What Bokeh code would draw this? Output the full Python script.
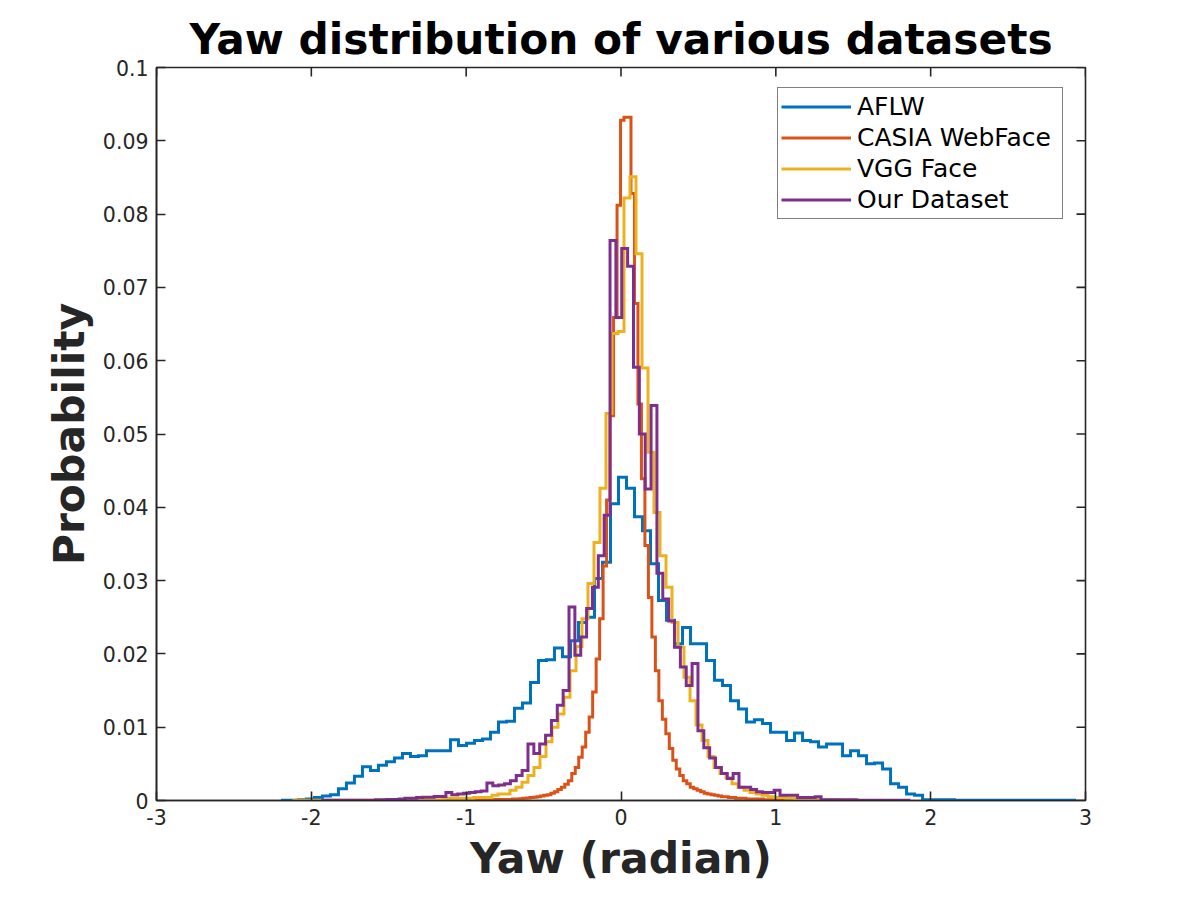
import numpy as np
from bokeh.plotting import figure
from bokeh.models import Range1d, FixedTicker, Legend, LegendItem
from bokeh.embed import file_html
from bokeh.resources import INLINE

# ---------------- data ----------------
series_names = ["AFLW", "CASIA WebFace", "VGG Face", "Our Dataset"]
series_colors = ["#0072BD", "#D95319", "#EDB120", "#7E2F8E"]

# AFLW: 99 bins
aflw_start = -2.1867
aflw_width = 0.05168
aflw_values = [
    0.00005, 0.00005, 0.0001, 0.0002, 0.0004, 0.0006, 0.0008, 0.0016, 0.0024, 0.0033,
    0.0046, 0.0041, 0.0048, 0.0053, 0.0058, 0.0064, 0.0060, 0.0061, 0.0068, 0.0068,
    0.0068, 0.0083, 0.0075, 0.0078, 0.0082, 0.0084, 0.0093, 0.0107, 0.0108, 0.0126,
    0.0133, 0.0161, 0.0191, 0.0192, 0.0208, 0.0196, 0.0218, 0.0243, 0.0250, 0.0303,
    0.0325, 0.0405, 0.0441, 0.0426, 0.0387, 0.0368, 0.0323, 0.0273, 0.0246, 0.0214,
    0.0236, 0.0214, 0.0214, 0.0191, 0.0164, 0.0157, 0.0136, 0.0125, 0.0107, 0.0110,
    0.0105, 0.0093, 0.0093, 0.0082, 0.0092, 0.0082, 0.0080, 0.0073, 0.0077, 0.0077,
    0.0061, 0.0068, 0.0061, 0.0050, 0.0051, 0.0043, 0.0023, 0.0018, 0.0009, 0.0007,
    0.0001, 0.0001, 0.0001, 0.0001, 0.00005, 0.00003, 0.00003, 0.00003, 0.00003, 0.00003,
    0.00003, 0.00003, 0.00003, 0.00003, 0.00003, 0.00003, 0.00003, 0.00003, 0.00003,
]

# CASIA WebFace: 100 bins
casia_start = -1.1505
casia_width = 0.0225
casia_values = [
    0.00004, 0.00004, 0.00004, 0.00004, 0.00004, 0.00004, 0.00004, 0.00004, 0.00004, 0.00004,
    0.0001, 0.0001, 0.0001, 0.0001, 0.0001, 0.00015, 0.00015, 0.00015, 0.00015, 0.00015,
    0.0002, 0.0002, 0.00025, 0.0003, 0.00035, 0.0004, 0.00045, 0.0005, 0.0006, 0.0007,
    0.0008, 0.0010, 0.0012, 0.0015, 0.0018, 0.0022, 0.0027, 0.0037, 0.0045, 0.0059,
    0.0073, 0.0093, 0.0114, 0.0148, 0.0193, 0.0248, 0.0320, 0.0410, 0.0525, 0.0659,
    0.0812, 0.0928, 0.0932, 0.0932, 0.0828, 0.0678, 0.0541, 0.0439, 0.0348, 0.0277,
    0.0223, 0.0177, 0.0136, 0.0111, 0.0091, 0.0071, 0.0055, 0.0043, 0.0034, 0.0027,
    0.0023, 0.0018, 0.0016, 0.0014, 0.0012, 0.0010, 0.0009, 0.0008, 0.0007, 0.0006,
    0.0005, 0.0005, 0.0004, 0.0004, 0.0003, 0.0003, 0.0003, 0.0002, 0.0002, 0.0002,
    0.0002, 0.0002, 0.0001, 0.0001, 0.0001, 0.0001, 0.0001, 0.0001, 0.0001, 0.0001,
]

# VGG Face: 94 bins
vgg_start = -2.1124
vgg_width = 0.03876
vgg_values = [
    0.00003, 0.00003, 0.00003, 0.00003, 0.00003, 0.00005, 0.00005, 0.00005, 0.00005, 0.00005,
    0.00005, 0.00005, 0.00005, 0.00005, 0.00005, 0.0001, 0.0001, 0.0001, 0.0001, 0.0001,
    0.0001, 0.0001, 0.0001, 0.0001, 0.0001, 0.0003, 0.0003, 0.0003, 0.0003, 0.0003,
    0.0004, 0.0004, 0.0004, 0.0007, 0.0009, 0.0009, 0.0014, 0.0018, 0.0025, 0.0034,
    0.0045, 0.0060, 0.0080, 0.0100, 0.0118, 0.0141, 0.0177, 0.0210, 0.0248, 0.0296,
    0.0352, 0.0426, 0.0528, 0.0637, 0.0640, 0.0822, 0.0851, 0.0746, 0.0590, 0.0475,
    0.0393, 0.0334, 0.0291, 0.0243, 0.0209, 0.0168, 0.0136, 0.0103, 0.0082, 0.0060,
    0.0045, 0.0037, 0.0031, 0.0023, 0.0018, 0.0014, 0.0011, 0.0009, 0.0007, 0.0005,
    0.0004, 0.0004, 0.0003, 0.0003, 0.0002, 0.0002, 0.0001, 0.0001, 0.0001, 0.0001,
    0.0001, 0.00005, 0.00005, 0.00005,
]

# Our Dataset: 100 bins
ours_start = -1.9257
ours_width = 0.037855
ours_values = [
    0.00003, 0.00003, 0.00003, 0.00003, 0.00003, 0.00003, 0.00003, 0.00003, 0.00003, 0.0001,
    0.0001, 0.00015, 0.00015, 0.0002, 0.0003, 0.0003, 0.0004, 0.00045, 0.00045, 0.00055,
    0.00055, 0.0011, 0.0008, 0.0009, 0.0010, 0.0011, 0.0012, 0.0013, 0.0024, 0.0020,
    0.0021, 0.0023, 0.0027, 0.0034, 0.0041, 0.0077, 0.0064, 0.0077, 0.0089, 0.0109,
    0.0130, 0.0150, 0.0264, 0.0198, 0.0223, 0.0262, 0.0291, 0.0334, 0.0389, 0.0764,
    0.0659, 0.0753, 0.0729, 0.0591, 0.0500, 0.0425, 0.0539, 0.0310, 0.0275, 0.0245,
    0.0209, 0.0182, 0.0157, 0.0187, 0.0095, 0.0072, 0.0058, 0.0045, 0.0037, 0.0030,
    0.0037, 0.0018, 0.0018, 0.0015, 0.0012, 0.0011, 0.0011, 0.0014, 0.0007, 0.0007,
    0.0007, 0.0004, 0.0004, 0.0004, 0.0005, 0.0001, 0.0001, 0.0001, 0.0001, 0.0001,
    0.0001, 0.00005, 0.00005, 0.00005, 0.00005, 0.00005, 0.00005, 0.00005, 0.00005, 0.00005,
]

x_limits = [-3, 3]
y_limits = [0, 0.1]
x_ticks = [-3, -2, -1, 0, 1, 2, 3]
x_tick_labels = ["-3", "-2", "-1", "0", "1", "2", "3"]
y_ticks = [0, 0.01, 0.02, 0.03, 0.04, 0.05, 0.06, 0.07, 0.08, 0.09, 0.1]
y_tick_labels = ["0", "0.01", "0.02", "0.03", "0.04", "0.05", "0.06", "0.07", "0.08", "0.09", "0.1"]

series_bins = [
    (aflw_start, aflw_width, aflw_values),
    (casia_start, casia_width, casia_values),
    (vgg_start, vgg_width, vgg_values),
    (ours_start, ours_width, ours_values),
]


def stairs(start, width, values):
    v = np.asarray(values, dtype=float)
    edges = start + width * np.arange(len(v) + 1)
    xs = np.repeat(edges, 2)
    ys = np.concatenate([[0.0], np.repeat(v, 2), [0.0]])
    return xs, ys


# ---------------- figure ----------------
AX = "#262626"
FONT = "DejaVu Sans"
TICK_LEN = 9

p = figure(
    frame_width=929, frame_height=733,
    x_range=Range1d(*x_limits), y_range=Range1d(*y_limits),
    output_backend="svg", toolbar_location=None,
    min_border_left=156, min_border_right=40,
    min_border_top=67, min_border_bottom=90,
    title="Yaw distribution of various datasets",
    background_fill_color="white", border_fill_color="white",
)
p.outline_line_color = AX
p.outline_line_width = 1.6
p.xgrid.visible = False
p.ygrid.visible = False

p.title.align = "center"
p.title.text_font = FONT
p.title.text_font_size = "42.3px"
p.title.text_font_style = "bold"
p.title.text_color = "#000000"
p.title.standoff = 7

bottom_axis = p.below[0]
left_axis = p.left[0]

for ax, ticks, labels, lab in [
    (bottom_axis, x_ticks, x_tick_labels, "Yaw (radian)"),
    (left_axis, y_ticks, y_tick_labels, "Probability"),
]:
    ax.ticker = FixedTicker(ticks=ticks)
    ax.major_label_overrides = {t: l for t, l in zip(ticks, labels)}
    ax.axis_line_color = AX
    ax.axis_line_width = 1.6
    ax.major_tick_line_color = AX
    ax.major_tick_line_width = 1.6
    ax.major_tick_in = TICK_LEN
    ax.major_tick_out = 0
    ax.minor_tick_line_color = None
    ax.major_label_text_font = FONT
    ax.major_label_text_font_size = "20.5px"
    ax.major_label_text_color = AX
    ax.major_label_standoff = 8
    ax.axis_label = lab
    ax.axis_label_text_font = FONT
    ax.axis_label_text_font_size = "42.5px"
    ax.axis_label_text_font_style = "bold"
    ax.axis_label_text_color = AX
    ax.axis_label_standoff = 6

# inward tick marks on the top and right edges of the box
p.ray(x=x_ticks, y=y_limits[1], length=TICK_LEN, length_units="screen",
      angle=-90, angle_units="deg", line_color=AX, line_width=1.6)
p.ray(x=x_limits[1], y=y_ticks, length=TICK_LEN, length_units="screen",
      angle=180, angle_units="deg", line_color=AX, line_width=1.6)

items = []
for name, color, (st, w, vals) in zip(series_names, series_colors, series_bins):
    xs, ys = stairs(st, w, vals)
    r = p.line(xs, ys, line_color=color, line_width=3, line_join="miter")
    items.append(LegendItem(label=name, renderers=[r]))

legend = Legend(items=items, location=(621, 581))
legend.border_line_color = "#000000"
legend.border_line_width = 1.3
legend.background_fill_color = "white"
legend.background_fill_alpha = 1.0
legend.label_text_font = FONT
legend.label_text_font_size = "25px"
legend.label_text_color = "#000000"
legend.glyph_width = 70
legend.glyph_height = 31
legend.label_height = 31
legend.label_width = 202
legend.label_standoff = 6
legend.padding = 3
legend.spacing = 0
legend.margin = 0
p.add_layout(legend)

open("out.html", "w").write(file_html(p, INLINE))
